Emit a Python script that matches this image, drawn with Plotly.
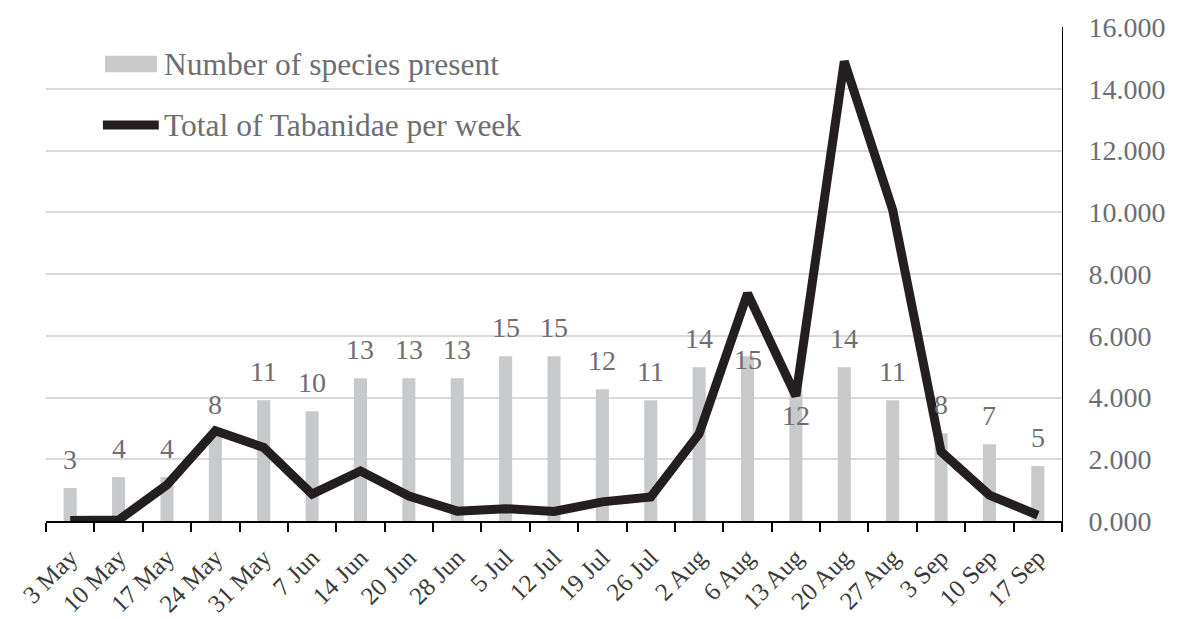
import plotly.graph_objects as go

weeks = ["3 May", "10 May", "17 May", "24 May", "31 May", "7 Jun", "14 Jun",
         "20 Jun", "28 Jun", "5 Jul", "12 Jul", "19 Jul", "26 Jul", "2 Aug",
         "6 Aug", "13 Aug", "20 Aug", "27 Aug", "3 Sep", "10 Sep", "17 Sep"]
species_present = [3, 4, 4, 8, 11, 10, 13, 13, 13, 15, 15, 12, 11, 14, 15, 12, 14, 11, 8, 7, 5]
tabanidae_per_week = [0.02, 0.03, 1.17, 2.92, 2.38, 0.87, 1.62, 0.81, 0.32, 0.40, 0.31,
                      0.62, 0.78, 2.83, 7.37, 4.05, 14.89, 10.08, 2.25, 0.84, 0.19]
right_ticks = [0, 2, 4, 6, 8, 10, 12, 14, 16]

FONT = "Liberation Serif"
GRAY_TXT = "#6d6e71"
BAR_COL = "#c8c9cb"
LINE_COL = "#231f20"

fig = go.Figure()
fig.add_trace(go.Bar(
    x=weeks, y=species_present, name="Number of species present",
    marker=dict(color=BAR_COL, line=dict(width=0)), width=0.27,
    yaxis="y", showlegend=False, hoverinfo="x+y",
))
fig.add_trace(go.Scatter(
    x=weeks, y=tabanidae_per_week, name="Total of Tabanidae per week",
    mode="lines", line=dict(color=LINE_COL, width=9), yaxis="y2",
    cliponaxis=False, showlegend=False,
))

# data labels over bars (two labels were moved down in the original)
LABEL_SHIFT = 29
moved = {"6 Aug": -3, "13 Aug": -26}
annotations = []
for wk, v in zip(weeks, species_present):
    annotations.append(dict(
        x=wk, y=v, xref="x", yref="y", text=str(v), showarrow=False,
        yshift=moved.get(wk, LABEL_SHIFT), yanchor="middle",
        font=dict(family=FONT, size=28, color=GRAY_TXT),
    ))

# manual legend (inside plot, top-left)
annotations += [
    dict(x=0.1142, y=0.9251, xref="paper", yref="paper", xanchor="left", yanchor="middle",
         text="Number of species present", showarrow=False,
         font=dict(family=FONT, size=31.5, color=GRAY_TXT)),
    dict(x=0.1142, y=0.8016, xref="paper", yref="paper", xanchor="left", yanchor="middle",
         text="Total of Tabanidae per week", showarrow=False,
         font=dict(family=FONT, size=31.5, color=GRAY_TXT)),
]
shapes = [
    dict(type="rect", xref="paper", yref="paper", x0=0.0581, x1=0.1093, y0=0.9083, y1=0.9419,
         fillcolor=BAR_COL, line=dict(width=0)),
    dict(type="line", xref="paper", yref="paper", x0=0.0560, x1=0.1110, y0=0.8016, y1=0.8016,
         line=dict(color=LINE_COL, width=9)),
]

# page body has an 8px margin: the figure is offset so the plot lands where the original is
fig.update_layout(
    width=1173, height=611,
    margin=dict(l=38, r=119, t=19, b=98),
    paper_bgcolor="white", plot_bgcolor="white",
    font=dict(family=FONT, color=GRAY_TXT),
    annotations=annotations, shapes=shapes,
    xaxis=dict(
        type="category", tickangle=-45, ticks="outside", tickson="boundaries",
        ticklen=9, tickwidth=1.5, tickcolor="black",
        showline=True, linecolor="black", linewidth=2, showgrid=False,
        ticklabelstandoff=10, automargin=False,
        tickfont=dict(family=FONT, size=25, color="#3a3a3a"),
    ),
    yaxis=dict(range=[0, 45], visible=False, showgrid=False, fixedrange=True),
    yaxis2=dict(
        overlaying="y", side="right", range=[0, 16], tickvals=right_ticks,
        tickformat=".3f", showgrid=True, gridcolor="#d9d9d9", gridwidth=1.5,
        showline=True, linecolor="black", linewidth=1, ticks="",
        ticklabelstandoff=20, zeroline=False, automargin=False,
        tickfont=dict(family=FONT, size=28, color=GRAY_TXT),
    ),
)

fig.write_html("out.html")
